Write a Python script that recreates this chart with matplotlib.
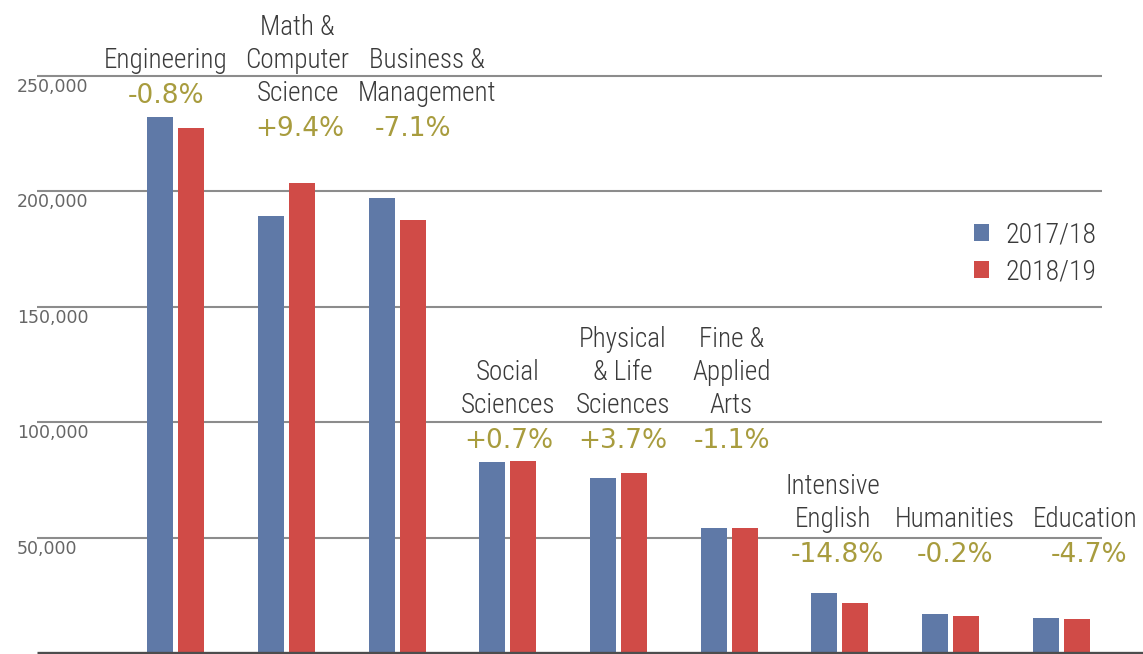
import numpy as np
import matplotlib
matplotlib.use("Agg")
from matplotlib import pyplot as plt
from matplotlib import font_manager

# data
categories = ["Engineering", "Math &\nComputer\nScience", "Business &\nManagement",
              "Social\nSciences", "Physical\n& Life\nSciences", "Fine &\nApplied\nArts",
              "Intensive\nEnglish", "Humanities", "Education"]
changes = ["-0.8%", "+9.4%", "-7.1%", "+0.7%", "+3.7%", "-1.1%", "-14.8%", "-0.2%", "-4.7%"]
students_1718 = [232000, 189200, 197000, 82700, 75800, 54100, 26000, 16900, 15200]
students_1819 = [227300, 203500, 187400, 83100, 77900, 54100, 21600, 16000, 14700]
series_labels = ["2017/18", "2018/19"]
yticks = [50000, 100000, 150000, 200000, 250000]

# label layout (x shift of label block, y of the % line), not data
label_dx = [-0.07, 0.12, 0.29, 0.02, 0.06, 0.04, -0.04, 0.06, 0.24]
pct_dx = [-0.07, 0.14, 0.16, 0.03, 0.06, 0.05, 0.0, 0.06, 0.27]
pct_y = [241100, 226800, 226800, 91800, 91800, 91800, 42400, 42400, 42400]

BLUE = "#5f79a7"
RED = "#d04b47"
GOLD = "#a89c3e"
GREY = "#3a3a3a"


def pick_narrow():
    # look for some condensed face among the installed fonts
    best, best_score = None, -1
    for f in font_manager.fontManager.ttflist:
        if f.style != "normal":
            continue
        st = str(f.stretch).lower()
        nm = f.name.lower()
        fn = f.fname.lower()
        if not ("condensed" in st or "narrow" in nm or "condensed" in nm or "condensed" in fn):
            continue
        if "extra" in st or "ultra" in st or "extra" in fn or "ultra" in fn:
            continue
        try:
            wt = int(f.weight)
        except ValueError:
            wt = 400
        if wt not in (300, 400):
            continue
        score = 0
        if "semi" not in st and "semi" not in fn:
            score += 2
        if wt == 300:
            score += 1
        if "noto sans" in nm or "roboto" in nm:
            score += 3
        if "liberation" in nm:
            score += 4
        if score > best_score:
            best, best_score = f, score
    return best


nf = pick_narrow()
if nf is not None:
    narrow = font_manager.FontProperties(fname=nf.fname, size=19.5)
    legfont = font_manager.FontProperties(fname=nf.fname, size=20)
else:
    narrow = font_manager.FontProperties(family="DejaVu Sans", size=14)
    legfont = font_manager.FontProperties(family="DejaVu Sans", size=15)

fig = plt.figure(figsize=(11.43, 6.54), dpi=100)
ax = fig.add_axes([0, 0, 1, 1])
ax.set_xlim(-1.569, 8.759)
ax.set_ylim(-430, 282700)
ax.axis("off")

x = np.arange(len(categories))
w = 0.235
off = 0.14
b1 = ax.bar(x - off + 0.02, students_1718, w, color=BLUE, zorder=3, label=series_labels[0])
b2 = ax.bar(x + off + 0.02, students_1819, w, color=RED, zorder=3, label=series_labels[1])

# gridlines + baseline
ax.hlines(yticks, -1.234, 8.389, color="#8c8c8c", lw=1.5, zorder=1)
ax.hlines(0, -1.234, 8.759, color="#4d4d4d", lw=2.4, zorder=4)

for t in yticks:
    ax.text(-1.415, t - 4800, f"{t:,}", ha="left", va="center",
            fontsize=12.5, color="#666666", family="DejaVu Sans")

for i in range(len(categories)):
    ax.text(i + pct_dx[i], pct_y[i], changes[i], ha="center", va="center",
            fontsize=19, color=GOLD, family="DejaVu Sans")
    ax.annotate(categories[i], xy=(i + label_dx[i], pct_y[i]), xytext=(0, 16),
                textcoords="offset points", ha="center", va="bottom",
                multialignment="center", linespacing=1.29,
                fontproperties=narrow, color=GREY)

leg = ax.legend(handles=[b1, b2], loc="upper left", frameon=False,
                bbox_to_anchor=(949 / 1143, 1 - 196 / 654), bbox_transform=fig.transFigure,
                handlelength=0.55, handleheight=0.55, handletextpad=0.6,
                labelspacing=0.36, prop=legfont)
for t in leg.get_texts():
    t.set_color(GREY)

fig.savefig("out.png", dpi=100, facecolor="white")
